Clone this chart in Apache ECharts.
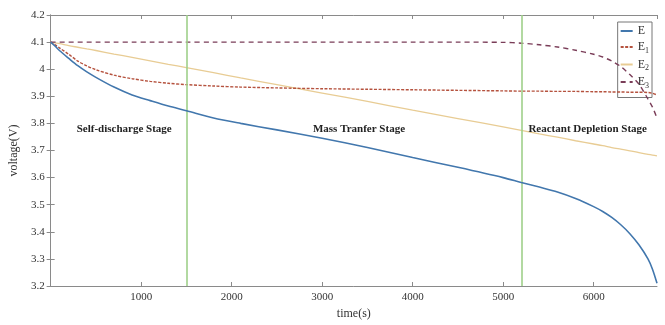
<!DOCTYPE html>
<html>
<head>
<meta charset="utf-8">
<script src="https://cdn.jsdelivr.net/npm/echarts@6/dist/echarts.min.js"></script>
<style>
  html, body { margin: 0; padding: 0; background: #fff; }
  #main { width: 665px; height: 325px; }
</style>
</head>
<body>
<div id="main"></div>
<script>
// time points (s)
var times = [0, 50, 100, 200, 300, 400, 500, 700, 900, 1100, 1300, 1500, 1800, 2100, 2500, 3000, 3500,
  4000, 4500, 5000, 5200, 5400, 5600, 5800, 6000, 6100, 6200, 6300, 6400, 6500, 6600, 6650, 6700];

var valE = [4.100, 4.085, 4.068, 4.040, 4.013, 3.990, 3.970, 3.934, 3.905, 3.884, 3.864, 3.847, 3.820,
  3.800, 3.776, 3.745, 3.711, 3.674, 3.638, 3.600, 3.582, 3.565, 3.547, 3.523, 3.493, 3.475, 3.453,
  3.426, 3.393, 3.352, 3.300, 3.262, 3.210];
var valE1 = [4.100, 4.090, 4.078, 4.055, 4.030, 4.012, 3.998, 3.978, 3.965, 3.955, 3.948, 3.943, 3.938,
  3.934, 3.931, 3.928, 3.926, 3.924, 3.922, 3.920, 3.919, 3.919, 3.918, 3.918, 3.917, 3.917, 3.916,
  3.916, 3.915, 3.915, 3.914, 3.911, 3.905];
var valE2 = [4.100, 4.097, 4.094, 4.087, 4.081, 4.075, 4.069, 4.056, 4.044, 4.031, 4.018, 4.006, 3.987,
  3.968, 3.943, 3.912, 3.881, 3.849, 3.818, 3.787, 3.774, 3.761, 3.749, 3.736, 3.724, 3.718, 3.711,
  3.705, 3.699, 3.692, 3.686, 3.683, 3.680];
var valE3 = [4.100, 4.100, 4.100, 4.100, 4.100, 4.100, 4.100, 4.100, 4.100, 4.100, 4.100, 4.100, 4.100,
  4.100, 4.100, 4.100, 4.100, 4.100, 4.100, 4.099, 4.096, 4.090, 4.082, 4.070, 4.055, 4.045, 4.030,
  4.010, 3.980, 3.945, 3.890, 3.860, 3.820];

var seriesNames = ['E', 'E1', 'E2', 'E3'];
var stageBounds = [1500, 5200];
var stageLabels = ['Self-discharge Stage', 'Mass Tranfer Stage', 'Reactant Depletion Stage'];
var stageLabelX = [813, 3407, 5934];
var stageLabelY = 3.78;

var serif = '"Liberation Serif", "DejaVu Serif", serif';
var axisGray = '#8a8a8a';

function pairs(vals) {
  return times.map(function (t, i) { return [t, vals[i]]; });
}

var chart = echarts.init(document.getElementById('main'));

var option = {
  animation: false,
  grid: { left: 47, right: 8, top: 15, bottom: 31 },
  legend: {
    data: seriesNames,
    orient: 'vertical',
    right: 13,
    top: 22,
    itemWidth: 12,
    itemHeight: 10,
    itemGap: 4,
    padding: [3, 3, 8, 2],
    backgroundColor: '#fff',
    borderColor: '#777',
    borderWidth: 1,
    borderRadius: 0,
    itemStyle: { opacity: 0 },
    formatter: function (name) {
      return name.length > 1 ? 'E{s|' + name.slice(1) + '}' : 'E';
    },
    textStyle: {
      fontFamily: serif,
      fontSize: 12,
      color: '#333',
      rich: {
        s: { fontFamily: serif, fontSize: 8, color: '#333', padding: [7, 0, 0, 0] }
      }
    }
  },
  xAxis: [{
    type: 'value',
    min: 0,
    max: 6700,
    interval: 1000,
    name: 'time(s)',
    nameLocation: 'middle',
    nameGap: 22,
    nameTextStyle: { fontFamily: serif, fontSize: 12, color: '#333' },
    axisLine: { lineStyle: { color: axisGray } },
    axisTick: { inside: true, length: 4, lineStyle: { color: axisGray } },
    axisLabel: {
      fontFamily: serif, fontSize: 11, color: '#333', margin: 6,
      showMaxLabel: false,
      formatter: function (v) { return (v === 0 || v === 6700) ? '' : String(v); }
    },
    splitLine: { show: false }
  }, {
    type: 'value',
    position: 'top',
    min: 0,
    max: 6700,
    interval: 1000,
    axisLine: { show: true, lineStyle: { color: axisGray } },
    axisTick: { show: true, inside: true, length: 4, lineStyle: { color: axisGray } },
    axisLabel: { show: false },
    splitLine: { show: false }
  }],
  yAxis: [{
    type: 'value',
    min: 3.2,
    max: 4.2,
    interval: 0.1,
    name: 'voltage(V)',
    nameLocation: 'middle',
    nameGap: 27,
    nameTextStyle: { fontFamily: serif, fontSize: 12, color: '#333' },
    axisLine: { show: true, lineStyle: { color: axisGray } },
    axisTick: { show: true, inside: true, length: 4, lineStyle: { color: axisGray } },
    axisLabel: {
      fontFamily: serif, fontSize: 11, color: '#333', margin: 6,
      formatter: function (v) { return String(+v.toFixed(1)); }
    },
    splitLine: { show: false }
  }, {
    type: 'value',
    position: 'right',
    min: 3.2,
    max: 4.2,
    interval: 0.1,
    axisLine: { show: true, lineStyle: { color: axisGray } },
    axisTick: { show: true, inside: true, length: 4, lineStyle: { color: axisGray } },
    axisLabel: { show: false },
    splitLine: { show: false }
  }],
  series: [
    {
      name: 'E', type: 'line', symbol: 'none', smooth: 0.3, data: pairs(valE),
      lineStyle: { color: '#4277ad', width: 1.6 }, itemStyle: { color: '#4277ad' }, z: 5,
      markLine: {
        silent: true, symbol: 'none', label: { show: false },
        lineStyle: { color: '#9fd08a', width: 1.6, type: 'solid' },
        data: stageBounds.map(function (b) { return { xAxis: b }; })
      }
    },
    {
      name: 'E1', type: 'line', symbol: 'none', smooth: 0.3, data: pairs(valE1),
      lineStyle: { color: '#b5523e', width: 1.4, type: [3, 1.5] }, itemStyle: { color: '#b5523e' }, z: 4
    },
    {
      name: 'E2', type: 'line', symbol: 'none', smooth: 0.3, data: pairs(valE2),
      lineStyle: { color: '#e8cc94', width: 1.3 }, itemStyle: { color: '#e8cc94' }, z: 3
    },
    {
      name: 'E3', type: 'line', symbol: 'none', smooth: 0.3, data: pairs(valE3),
      lineStyle: { color: '#7a3d58', width: 1.4, type: [5, 4] }, itemStyle: { color: '#7a3d58' }, z: 4
    }
  ]
};

chart.setOption(option);

// stage labels placed at data coordinates
chart.setOption({
  graphic: stageLabels.map(function (txt, i) {
    var p = chart.convertToPixel({ xAxisIndex: 0, yAxisIndex: 0 }, [stageLabelX[i], stageLabelY]);
    return {
      type: 'text',
      x: p[0],
      y: p[1],
      z: 10,
      style: {
        text: txt,
        fill: '#222',
        font: 'bold 11px ' + serif,
        textAlign: 'center',
        textVerticalAlign: 'middle'
      }
    };
  })
});
</script>
</body>
</html>
